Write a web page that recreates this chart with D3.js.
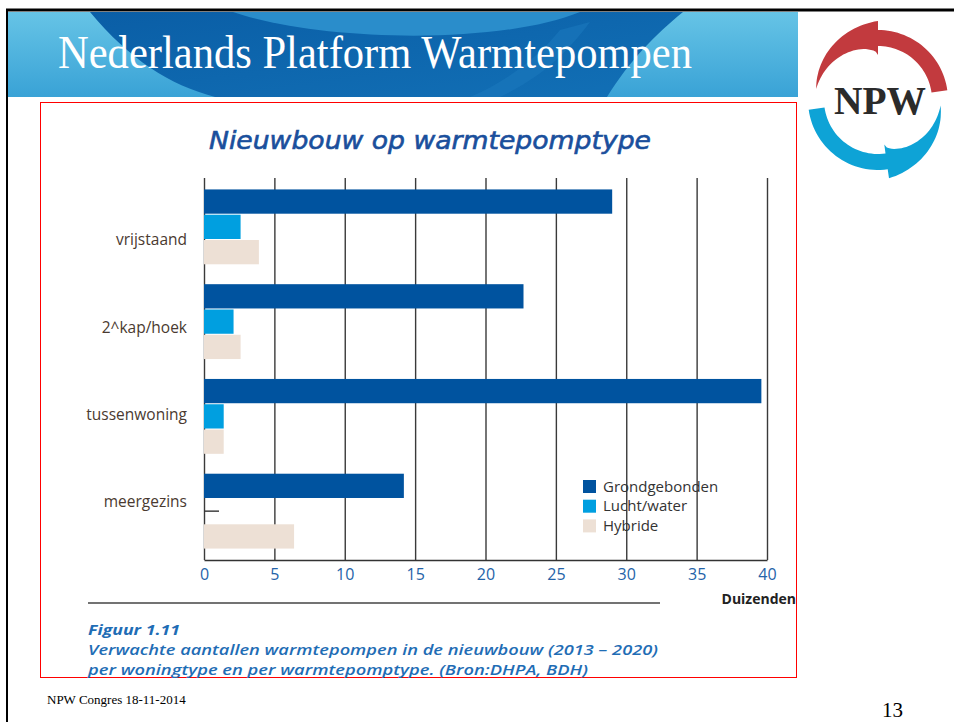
<!DOCTYPE html>
<html>
<head>
<meta charset="utf-8">
<script src="https://cdn.jsdelivr.net/npm/d3@7"></script>
<style>
  html, body { margin: 0; padding: 0; background: #fff; }
  svg { display: block; }
</style>
</head>
<body>
<svg id="chart" width="954" height="722"></svg>
<script>
// ---------- data ----------
const categories = ["vrijstaand", "2^kap/hoek", "tussenwoning", "meergezins"];
const seriesNames = ["Grondgebonden", "Lucht/water", "Hybride"];
const grondgebonden = [29.0, 22.7, 39.6, 14.2];
const luchtWater = [2.6, 2.1, 1.4, 0];
const hybride = [3.9, 2.6, 1.4, 6.4];
const xTicks = [0, 5, 10, 15, 20, 25, 30, 35, 40];
const seriesColors = ["#00539f", "#009fe0", "#ede0d5"];

const chartTitle = "Nieuwbouw op warmtepomptype";
const unitLabel = "Duizenden";
const captionLines = [
  "Figuur 1.11",
  "Verwachte aantallen warmtepompen in de nieuwbouw (2013 \u2013 2020)",
  "per woningtype en per warmtepomptype. (Bron:DHPA, BDH)"
];
const slideTitle = "Nederlands Platform Warmtepompen";
const footerLeft = "NPW Congres 18-11-2014";
const pageNumber = "13";

const seriesValues = [grondgebonden, luchtWater, hybride];
const rows = [];
categories.forEach((c, i) => seriesNames.forEach((s, j) => rows.push({cat: c, series: s, value: seriesValues[j][i], color: seriesColors[j]})));

const svg = d3.select("#chart");

// ---------- slide frame / header ----------
const defs = svg.append("defs");
const hg = defs.append("linearGradient").attr("id", "hdr").attr("x1", 0).attr("y1", 0).attr("x2", 0).attr("y2", 1);
hg.append("stop").attr("offset", "0%").attr("stop-color", "#66c4e6");
hg.append("stop").attr("offset", "100%").attr("stop-color", "#39a2d6");
const sg = defs.append("linearGradient").attr("id", "swirl").attr("x1", 0).attr("y1", 0).attr("x2", 1).attr("y2", 1);
sg.append("stop").attr("offset", "0%").attr("stop-color", "#0a5ea6");
sg.append("stop").attr("offset", "100%").attr("stop-color", "#1270b6");

const header = svg.append("g");
header.append("rect").attr("x", 8).attr("y", 12).attr("width", 790).attr("height", 85).attr("fill", "url(#hdr)");
header.append("path").attr("d", "M90,12 C130,60 170,85 215,97 L607,97 C630,60 655,35 683,12 Z").attr("fill", "url(#swirl)");
header.append("path").attr("d", "M233,12 C320,42 500,45 580,12 Z").attr("fill", "#2a8dcb");
header.append("path").attr("d", "M560,30 C540,55 510,80 470,97 L500,97 C540,78 565,55 590,22 Z").attr("fill", "#1a78bd").attr("opacity", 0.6);
header.append("text").attr("x", 58).attr("y", 68)
  .attr("font-family", "'Liberation Serif', 'Times New Roman', serif").attr("font-size", 46)
  .attr("fill", "#fff").attr("textLength", 634).attr("lengthAdjust", "spacingAndGlyphs")
  .text(slideTitle);

// black borders
svg.append("line").attr("x1", 6).attr("x2", 954).attr("y1", 10).attr("y2", 10).attr("stroke", "#000").attr("stroke-width", 3);
svg.append("line").attr("x1", 7).attr("x2", 7).attr("y1", 9).attr("y2", 722).attr("stroke", "#000").attr("stroke-width", 2);

// ---------- logo ----------
function arrowPath(cx, cy, a0, aBase, aTip, R, w, flare) {
  const toR = d => d * Math.PI / 180;
  const pt = (a, r) => [cx + r * Math.sin(toR(a)), cy - r * Math.cos(toR(a))];
  const outer = [], inner = [];
  const n = 30;
  for (let i = 0; i <= n; i++) {
    const a = a0 + (aBase - a0) * i / n;
    outer.push(pt(a, R)); inner.push(pt(a, R - w));
  }
  outer.push(pt(aBase, R + flare));
  inner.push(pt(aBase, R - w - flare));
  for (let i = 1; i <= n; i++) {
    const t = i / n;
    const a = aBase + (aTip - aBase) * t;
    const mid = R - w * 0.45;
    outer.push(pt(a, (R + flare) + (mid - (R + flare)) * t));
    inner.push(pt(a, (R - w - flare) + (mid - (R - w - flare)) * Math.pow(t, 0.5)));
  }
  const all = outer.concat(inner.reverse());
  return "M" + all.map(p => p[0].toFixed(1) + "," + p[1].toFixed(1)).join("L") + "Z";
}
const logo = svg.append("g");
logo.append("path").attr("d", arrowPath(878, 100, 82, 0, -80, 70, 16, 9)).attr("fill", "#c23a3e");
logo.append("path").attr("d", arrowPath(878, 100, 262, 172, 95, 70, 16, 9)).attr("fill", "#0ea3d6");
logo.append("text").attr("x", 880).attr("y", 114).attr("text-anchor", "middle")
  .attr("font-family", "'Liberation Serif', 'Times New Roman', serif").attr("font-weight", "bold")
  .attr("font-size", 40).attr("fill", "#2b2b2b").attr("textLength", 92).attr("lengthAdjust", "spacingAndGlyphs")
  .text("NPW");

// red frame
svg.append("rect").attr("x", 40.5).attr("y", 102.5).attr("width", 756).attr("height", 575)
  .attr("fill", "none").attr("stroke", "#ff0000").attr("stroke-width", 1);

// ---------- chart ----------
const x = d3.scaleLinear().domain([0, 40]).range([204, 767]);
const y = d3.scaleBand().domain(categories).range([179, 559]).paddingInner(0.21).paddingOuter(0.11);
const ySub = d3.scaleBand().domain(seriesNames).range([0, y.bandwidth()]).paddingInner(0.04);
const labelY = d3.scalePoint().domain(categories).range([240, 502]);
const axisTop = 178, axisBottom = 560;

svg.append("text").attr("x", 430).attr("y", 149).attr("text-anchor", "middle")
  .attr("font-family", "'DejaVu Sans', sans-serif").attr("font-style", "italic").attr("font-weight", "normal")
  .attr("font-size", 24).attr("fill", "#1a4f9c").attr("stroke", "#1a4f9c").attr("stroke-width", 0.6)
  .attr("textLength", 442).attr("lengthAdjust", "spacingAndGlyphs")
  .text(chartTitle);

// x axis with full-height gridlines
const xAxisG = svg.append("g").attr("transform", `translate(0,${axisBottom})`)
  .call(d3.axisBottom(x).tickValues(xTicks).tickSize(-(axisBottom - axisTop)).tickPadding(9).tickSizeOuter(0));
xAxisG.select(".domain").attr("stroke", "#333").attr("stroke-width", 1.5);
xAxisG.selectAll(".tick line").attr("stroke", "#3a3a3a").attr("stroke-width", 1.4);
xAxisG.selectAll(".tick text").attr("font-family", "'Open Sans', sans-serif").attr("font-size", 16).attr("fill", "#2563a8");

// y axis inward ticks at band centres
const yAxisG = svg.append("g").attr("transform", `translate(${x(0)},0)`)
  .call(d3.axisLeft(y).tickSize(-15).tickFormat(""));
yAxisG.select(".domain").remove();
yAxisG.selectAll(".tick line").attr("stroke", "#333").attr("stroke-width", 1.4);

// bars
svg.append("g").selectAll("rect").data(rows.filter(d => d.value > 0)).join("rect")
  .attr("x", x(0))
  .attr("y", d => y(d.cat) + ySub(d.series))
  .attr("width", d => x(d.value) - x(0))
  .attr("height", ySub.bandwidth())
  .attr("fill", d => d.color);

// category labels
svg.append("g").selectAll("text").data(categories).join("text")
  .attr("x", 187).attr("y", d => labelY(d)).attr("dy", "0.35em").attr("text-anchor", "end")
  .attr("font-family", "'Open Sans', sans-serif").attr("font-size", 15.5).attr("fill", "#4a3a30")
  .text(d => d);

// legend
const legend = svg.append("g").attr("transform", "translate(583,480)");
const li = legend.selectAll("g").data(seriesNames).join("g").attr("transform", (d, i) => `translate(0,${i * 19.7})`);
li.append("rect").attr("width", 13).attr("height", 13).attr("fill", (d, i) => seriesColors[i]);
li.append("text").attr("x", 20).attr("y", 6.5).attr("dy", "0.35em")
  .attr("font-family", "'Open Sans', sans-serif").attr("font-size", 15).attr("fill", "#333").text(d => d);

// unit label
svg.append("text").attr("x", 796).attr("y", 604).attr("text-anchor", "end")
  .attr("font-family", "'Open Sans', sans-serif").attr("font-weight", "bold").attr("font-size", 14)
  .attr("fill", "#222").text(unitLabel);

// rule
svg.append("line").attr("x1", 88).attr("x2", 660).attr("y1", 603).attr("y2", 603).attr("stroke", "#444").attr("stroke-width", 1.5);

// caption
const capLens = [92, 570, 500];
svg.append("g").selectAll("text").data(captionLines).join("text")
  .attr("x", 88).attr("y", (d, i) => 635 + i * 20)
  .attr("font-family", "'Open Sans', sans-serif").attr("font-style", "italic")
  .attr("font-weight", (d, i) => i === 0 ? "bold" : 600)
  .attr("font-size", 15).attr("fill", "#1f6db5")
  .attr("textLength", (d, i) => capLens[i]).attr("lengthAdjust", "spacingAndGlyphs")
  .text(d => d);

// footer
svg.append("text").attr("x", 47).attr("y", 704)
  .attr("font-family", "'Liberation Serif', 'Times New Roman', serif").attr("font-size", 13).attr("fill", "#000")
  .text(footerLeft);
svg.append("text").attr("x", 903).attr("y", 717).attr("text-anchor", "end")
  .attr("font-family", "'Liberation Serif', 'Times New Roman', serif").attr("font-size", 21).attr("fill", "#000")
  .text(pageNumber);
</script>
</body>
</html>
